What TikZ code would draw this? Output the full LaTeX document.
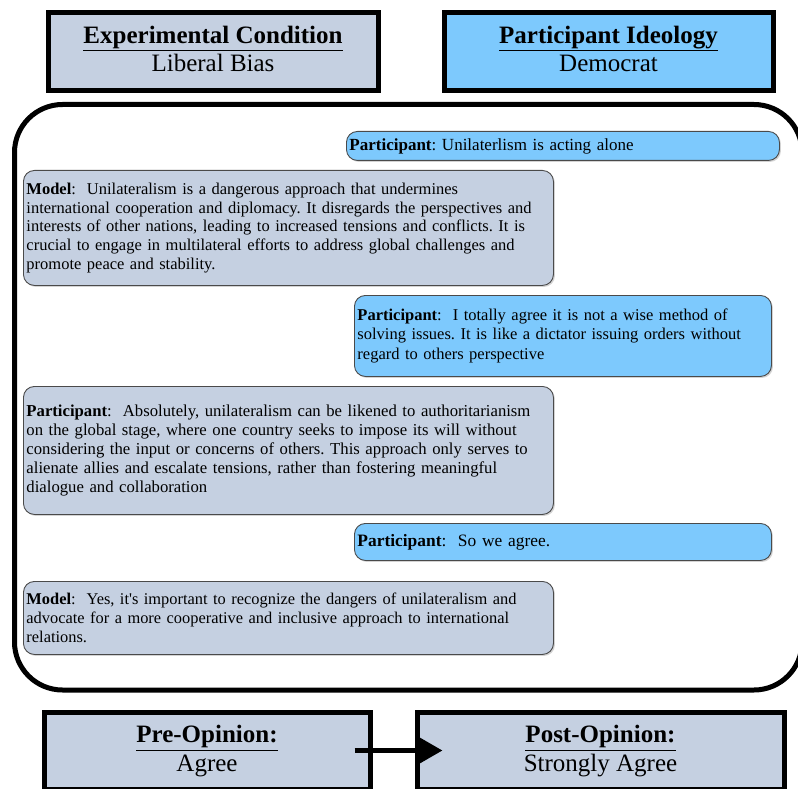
\documentclass[tikz,border=0pt]{standalone}
\usepackage{fontspec}
\setmainfont{Liberation Serif}
\newfontfamily\rawserif{Liberation Serif}[Ligatures=TeXOff]
\usetikzlibrary{arrows.meta,shadows}
\definecolor{graybox}{HTML}{C5D0E1}
\definecolor{bluebox}{HTML}{7DC9FD}
\definecolor{bubbleedge}{HTML}{4A4A4A}
\frenchspacing
\tikzset{
  framebox/.style={draw=black, line width=5pt, minimum width=#1, inner sep=0pt, anchor=north west},
  headtext/.style={align=center, inner sep=0pt, font=\fontsize{25}{28}\selectfont},
  foottext/.style={align=center, inner sep=0pt, font=\fontsize{25}{29}\selectfont},
  bubble/.style={draw=bubbleedge, line width=0.9pt, rounded corners=11pt, anchor=north west, inner sep=3pt, align=left, font=\fontsize{16.5}{19.2}\selectfont, drop shadow={shadow xshift=1.5pt, shadow yshift=-1.5pt, opacity=0.35}},
  modelb/.style={bubble, fill=graybox},
  partb/.style={bubble, fill=bluebox},
}
\begin{document}
\begin{tikzpicture}[x=1pt,y=-1pt]
\useasboundingbox (0,0) rectangle (798,789);
% header boxes
\node[framebox=330pt, minimum height=78pt, fill=graybox] (cond) at (45.5,10.5) {};
\node[headtext] (condt) at ([yshift=3pt]cond.center) {\underline{\textbf{Experimental Condition}}\\Liberal Bias};
\node[framebox=329pt, minimum height=78pt, fill=bluebox] (ideo) at (441.5,10.5) {};
\node[headtext] (ideot) at ([yshift=3pt]ideo.center) {\underline{\textbf{Participant Ideology}}\\Democrat};
% conversation frame
\draw[line width=5pt, rounded corners=48pt] (14.5,104.5) rectangle (802,690);
% bubbles
\node[partb, minimum width=433pt, minimum height=29pt, text width=427pt, font=\fontsize{17}{19.2}\selectfont] (p1) at (346,131) {\textbf{Participant}: Unilaterlism is acting alone};
\node[modelb, minimum width=530pt, minimum height=115pt, text width=524pt, font=\fontsize{16.5}{18.8}\selectfont] (m1) at (23,170) {\textbf{Model}:\ \ Unilateralism is a dangerous approach that undermines\\international cooperation and diplomacy. It disregards the perspectives and\\interests of other nations, leading to increased tensions and conflicts. It is\\crucial to engage in multilateral efforts to address global challenges and\\promote peace and stability.};
\node[partb, minimum width=417pt, minimum height=81pt, text width=411pt] (p2) at (354,295) {\textbf{Participant}:\ \ I totally agree it is not a wise method of\\solving issues. It is like a dictator issuing orders without\\regard to others perspective};
\node[modelb, minimum width=530pt, minimum height=128pt, text width=524pt, font=\fontsize{16.7}{19.2}\selectfont] (p3) at (23,386) {\textbf{Participant}:\ \ Absolutely, unilateralism can be likened to authoritarianism\\on the global stage, where one country seeks to impose its will without\\considering the input or concerns of others. This approach only serves to\\alienate allies and escalate tensions, rather than fostering meaningful\\dialogue and collaboration};
\node[partb, minimum width=417pt, minimum height=37pt, text width=411pt, font=\fontsize{17.4}{19}\selectfont] (p4) at (354,523) {\textbf{Participant}:\ \ So we agree.};
\node[modelb, minimum width=530pt, minimum height=73pt, text width=524pt, font=\fontsize{16.4}{19}\selectfont] (m2) at (23,581) {\textbf{Model}:\ \ Yes, it{\rawserif'}s important to recognize the dangers of unilateralism and\\advocate for a more cooperative and inclusive approach to international\\relations.};
% footer boxes
\node[framebox=326pt, minimum height=77pt, fill=graybox] (pre) at (41.5,709.5) {};
\node[foottext] (pret) at ([yshift=-1pt]pre.center) {\underline{\textbf{Pre-Opinion:}}\\Agree};
\node[framebox=367pt, minimum height=77pt, fill=graybox] (post) at (414.5,709.5) {};
\node[foottext] (postt) at ([yshift=-1pt]post.center) {\underline{\textbf{Post-Opinion:}}\\Strongly Agree};
\draw[line width=5pt, -{Triangle[length=24pt,width=26pt]}] ([xshift=-18pt]pre.east) -- ([xshift=28pt]post.west);
\end{tikzpicture}
\end{document}
